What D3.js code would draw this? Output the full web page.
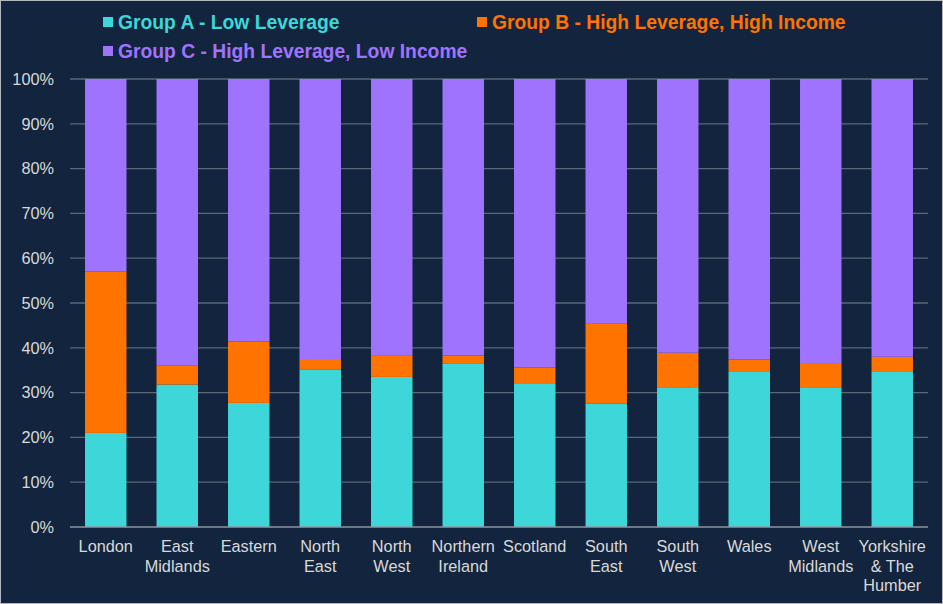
<!DOCTYPE html>
<html>
<head>
<meta charset="utf-8">
<script src="https://cdn.jsdelivr.net/npm/d3@7"></script>
<style>
    body { margin: 0; background: #ffffff; }
    #chart { width: 943px; height: 604px; }
    text { font-family: "Liberation Sans", Arial, sans-serif; }
</style>
</head>
<body>
<div id="chart"></div>
<script>
// regions on the x axis (multi-line labels split with \n)
let regions = ["London", "East\nMidlands", "Eastern", "North\nEast", "North\nWest", "Northern\nIreland",
    "Scotland", "South\nEast", "South\nWest", "Wales", "West\nMidlands", "Yorkshire\n& The\nHumber"];

// shares in percent
let groupA = [21.0, 31.8, 27.7, 35.2, 33.5, 36.4, 32.1, 27.5, 31.2, 34.6, 31.2, 34.6];
let groupB = [36.0, 4.2, 13.7, 2.3, 4.7, 1.9, 3.5, 18.0, 7.7, 2.8, 5.2, 3.4];
let groupC = groupA.map((a, i) => 100 - a - groupB[i]);

let seriesNames = ["Group A - Low Leverage", "Group B - High Leverage, High Income", "Group C - High Leverage, Low Income"];
let seriesColors = ["#3DD6D9", "#FF7300", "#A073FF"];
let yTicks = [0, 10, 20, 30, 40, 50, 60, 70, 80, 90, 100];

let W = 943, H = 604;
let margin = {top: 79, right: 15, bottom: 77, left: 70};
let width = W - margin.left - margin.right;
let height = H - margin.top - margin.bottom;

let svg = d3.select("#chart").append("svg")
    .attr("width", W)
    .attr("height", H);

// background + thin border
svg.append("rect")
    .attr("x", 0.5).attr("y", 0.5)
    .attr("width", W - 1).attr("height", H - 1)
    .attr("fill", "#13253E")
    .attr("stroke", "#B4B8BE")
    .attr("stroke-width", 1);

let g = svg.append("g")
    .attr("transform", `translate(${margin.left}, ${margin.top})`);

// build stacked table
let table = regions.map((r, i) => ({region: r, A: groupA[i], B: groupB[i], C: groupC[i]}));
let stack = d3.stack().keys(["A", "B", "C"]);
let layers = stack(table);

let x = d3.scaleBand()
    .domain(regions)
    .range([0, width])
    .paddingInner(0.42)
    .paddingOuter(0.21);

let y = d3.scaleLinear()
    .domain([0, 100])
    .range([height, 0]);

// gridlines
g.append("g")
    .selectAll("line")
    .data(yTicks.filter(d => d > 0))
    .enter().append("line")
    .attr("x1", 0)
    .attr("x2", width)
    .attr("y1", d => y(d))
    .attr("y2", d => y(d))
    .attr("stroke", "#5B6778")
    .attr("stroke-width", 1.3);

// bars
g.selectAll(".layer")
    .data(layers)
    .enter().append("g")
    .attr("class", "layer")
    .attr("fill", (d, i) => seriesColors[i])
    .selectAll("rect")
    .data(d => d)
    .enter().append("rect")
    .attr("x", d => x(d.data.region))
    .attr("y", d => y(d[1]))
    .attr("width", x.bandwidth())
    .attr("height", d => y(d[0]) - y(d[1]));

// x axis line
g.append("line")
    .attr("x1", 0).attr("x2", width)
    .attr("y1", height).attr("y2", height)
    .attr("stroke", "#8C96A3")
    .attr("stroke-width", 1.3);

// y axis labels
let yAxis = d3.axisLeft(y)
    .tickValues(yTicks)
    .tickSize(0)
    .tickPadding(16)
    .tickFormat(d => d + "%");

g.append("g")
    .attr("class", "y-axis")
    .call(yAxis)
    .call(a => a.select(".domain").remove())
    .selectAll("text")
    .attr("fill", "#D9D9D9")
    .attr("font-size", "16.3px")
    .attr("font-family", "'Liberation Sans', Arial, sans-serif");

// x axis labels
let xLabels = g.append("g")
    .selectAll("text")
    .data(regions)
    .enter().append("text")
    .attr("text-anchor", "middle")
    .attr("fill", "#D9D9D9")
    .attr("font-size", "16.3px")
    .attr("transform", d => `translate(${x(d) + x.bandwidth() / 2}, ${height + 25})`);

xLabels.selectAll("tspan")
    .data(d => d.split("\n"))
    .enter().append("tspan")
    .attr("x", 0)
    .attr("dy", (d, i) => i === 0 ? 0 : 19.5)
    .text(d => d);

// legend
let legendPos = [{x: 103, y: 22}, {x: 477, y: 22}, {x: 103, y: 51}];
let legend = svg.append("g")
    .selectAll("g")
    .data(seriesNames)
    .enter().append("g")
    .attr("transform", (d, i) => `translate(${legendPos[i].x}, ${legendPos[i].y})`);

legend.append("rect")
    .attr("x", 0)
    .attr("y", -5)
    .attr("width", 10)
    .attr("height", 10)
    .attr("fill", (d, i) => seriesColors[i]);

legend.append("text")
    .attr("x", 15)
    .attr("y", 7)
    .attr("fill", (d, i) => seriesColors[i])
    .attr("font-size", "19.3px")
    .attr("font-weight", "bold")
    .text(d => d);
</script>
</body>
</html>
